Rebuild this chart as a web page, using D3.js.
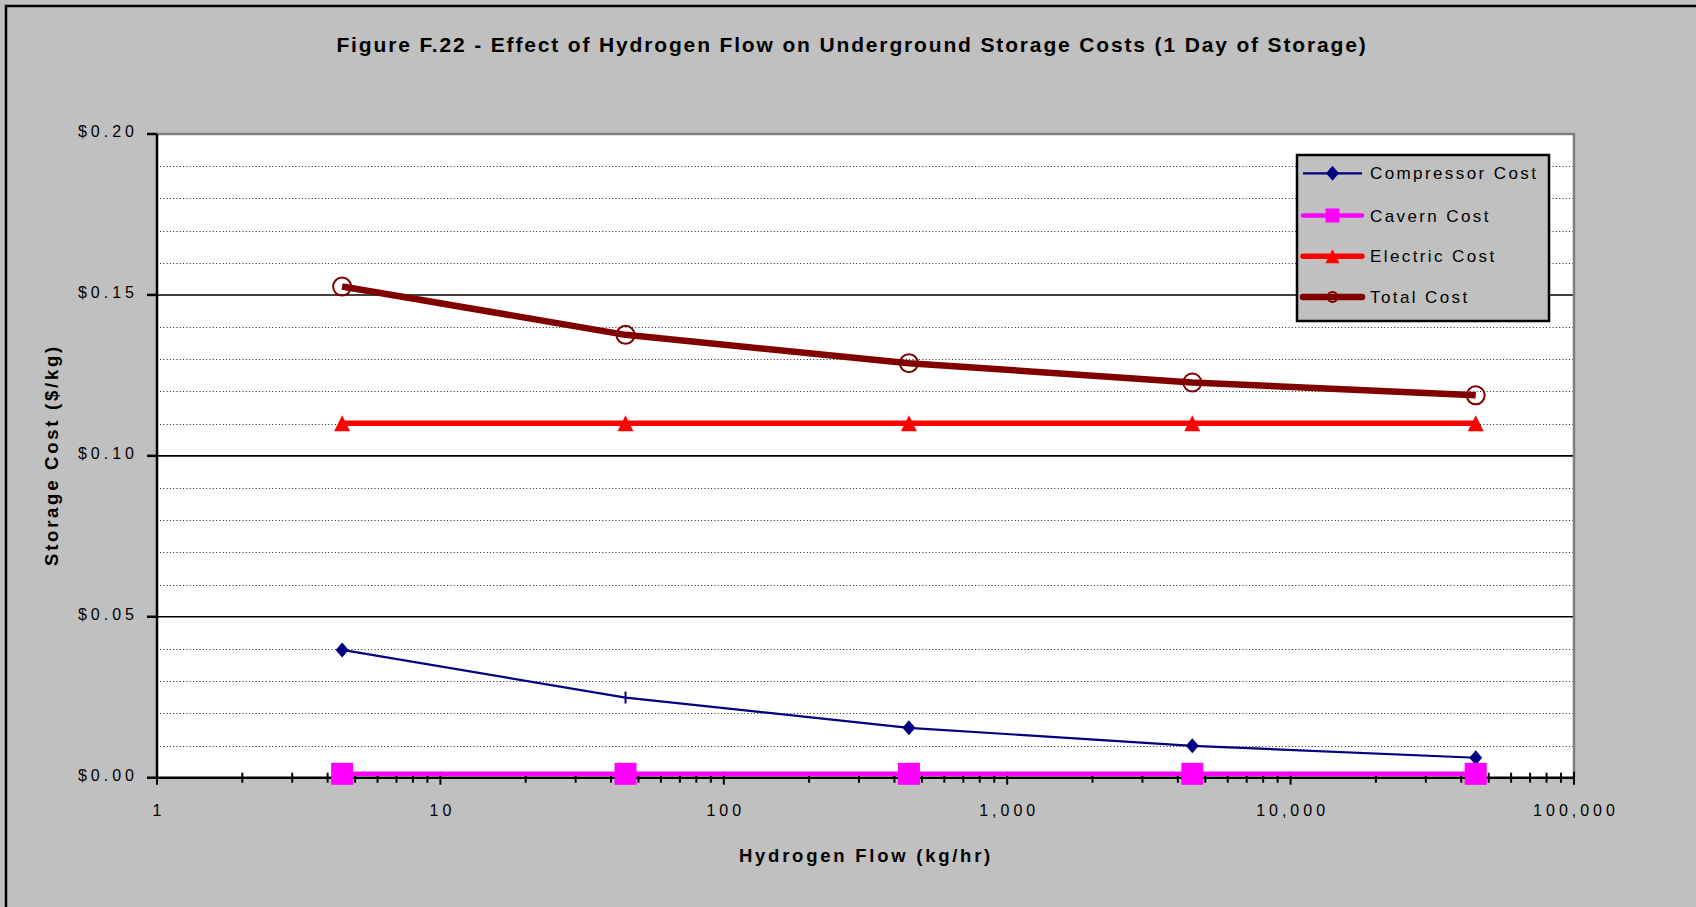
<!DOCTYPE html>
<meta charset="utf-8">
<style>
body { margin: 0; background: #c0c0c0; }
svg { display: block; font-family: "Liberation Sans", Arial, sans-serif; }
.tick-label { font-size: 16px; letter-spacing: 4px; fill: #000; }
.legend-label { font-size: 17px; letter-spacing: 2.4px; fill: #000; }
.titulo { font-size: 21px; font-weight: bold; letter-spacing: 1.85px; fill: #000; }
.eixo-titulo { font-size: 18.5px; font-weight: bold; letter-spacing: 2.75px; fill: #000; }
</style>
<svg width="1696" height="907"></svg>
<script src="https://d3js.org/d3.v7.min.js"></script>
<script>

// dados (custo em $/kg)
var fluxo = [4.5, 45, 450, 4500, 45000];
var compressor = [0.0397, 0.0249, 0.0155, 0.0099, 0.0062];
var caverna = [0.0012, 0.0012, 0.0012, 0.0012, 0.0012];
var eletrico = [0.1101, 0.1101, 0.1101, 0.1101, 0.1101];
var total = [0.1526, 0.1376, 0.1288, 0.1228, 0.1188];

var yTicks = [0, 0.05, 0.10, 0.15, 0.20];
var xTicks = [1, 10, 100, 1000, 10000, 100000];
var nomes = ["Compressor Cost", "Cavern Cost", "Electric Cost", "Total Cost"];

var svg = d3.select("svg");
var plot = {left: 157, right: 1574, top: 134, bottom: 777.7};

var x = d3.scaleLog().domain([1, 100000]).range([plot.left, plot.right]);
var y = d3.scaleLinear().domain([0, 0.2]).range([plot.bottom, plot.top]);

// moldura externa
svg.append("rect")
    .attr("x", 6).attr("y", 6).attr("width", 1720).attr("height", 940)
    .attr("fill", "#c0c0c0").attr("stroke", "#000").attr("stroke-width", 2.5);

// area do grafico
svg.append("rect")
    .attr("x", plot.left).attr("y", plot.top)
    .attr("width", plot.right - plot.left).attr("height", plot.bottom - plot.top)
    .attr("fill", "#fff");

// linhas de grade pontilhadas (a cada 0.01)
var menores = d3.range(1, 20).filter(i => i % 5 != 0).map(i => i / 100);
svg.append("g").selectAll("line").data(menores).enter().append("line")
    .attr("x1", plot.left + 3).attr("x2", plot.right)
    .attr("y1", d => Math.round(y(d)) + 0.5).attr("y2", d => Math.round(y(d)) + 0.5)
    .attr("stroke", "#222").attr("stroke-width", 1).attr("stroke-dasharray", "1,2.3");

// linhas de grade principais
svg.append("g").selectAll("line").data([0.05, 0.10, 0.15]).enter().append("line")
    .attr("x1", plot.left).attr("x2", plot.right)
    .attr("y1", d => y(d)).attr("y2", d => y(d))
    .attr("stroke", "#000").attr("stroke-width", 1.6);

// bordas cinzas de cima e da direita
svg.append("path")
    .attr("d", "M" + plot.left + "," + plot.top + "H" + plot.right + "V" + plot.bottom)
    .attr("fill", "none").attr("stroke", "#808080").attr("stroke-width", 2.5);

// eixo y
svg.append("line")
    .attr("x1", plot.left).attr("x2", plot.left).attr("y1", plot.top).attr("y2", plot.bottom)
    .attr("stroke", "#000").attr("stroke-width", 2.5);
svg.append("g").selectAll("line").data(yTicks).enter().append("line")
    .attr("x1", plot.left - 10).attr("x2", plot.left)
    .attr("y1", d => y(d)).attr("y2", d => y(d))
    .attr("stroke", "#000").attr("stroke-width", 2.5);
svg.append("g").selectAll("text").data(yTicks).enter().append("text")
    .attr("class", "tick-label")
    .attr("x", 138).attr("y", d => y(d) + 3)
    .attr("text-anchor", "end")
    .text(d3.format("$.2f"));

// eixo x (log)
var xMenores = [];
xTicks.slice(0, -1).forEach(function(dec) {
  for (var k = 2; k <= 9; k++) xMenores.push(dec * k);
});
svg.append("g").selectAll("line").data(xMenores).enter().append("line")
    .attr("x1", d => x(d)).attr("x2", d => x(d))
    .attr("y1", plot.bottom - 5).attr("y2", plot.bottom + 5)
    .attr("stroke", "#000").attr("stroke-width", 2);
svg.append("g").selectAll("line").data(xTicks).enter().append("line")
    .attr("x1", d => x(d)).attr("x2", d => x(d))
    .attr("y1", plot.bottom - 6).attr("y2", plot.bottom + 7)
    .attr("stroke", "#000").attr("stroke-width", 2);
svg.append("line")
    .attr("x1", plot.left).attr("x2", plot.right).attr("y1", plot.bottom).attr("y2", plot.bottom)
    .attr("stroke", "#000").attr("stroke-width", 2.5);
svg.append("g").selectAll("text").data(xTicks).enter().append("text")
    .attr("class", "tick-label")
    .attr("x", d => x(d) + 2).attr("y", 816)
    .attr("text-anchor", "middle")
    .text(d3.format(",d"));

// titulos
svg.append("text").attr("class", "titulo")
    .attr("x", 852).attr("y", 52).attr("text-anchor", "middle")
    .text("Figure F.22 - Effect of Hydrogen Flow on Underground Storage Costs (1 Day of Storage)");
svg.append("text").attr("class", "eixo-titulo")
    .attr("x", 866).attr("y", 862).attr("text-anchor", "middle")
    .text("Hydrogen Flow (kg/hr)");
svg.append("text").attr("class", "eixo-titulo")
    .attr("transform", "translate(58,455) rotate(-90)")
    .attr("text-anchor", "middle")
    .text("Storage Cost ($/kg)");

// series
var linha = d3.line().x(d => x(d[0])).y(d => y(d[1]));
function pares(vals) { return fluxo.map((f, i) => [f, vals[i]]); }

var series = [
  {vals: compressor, cor: "#000080", largura: 2.2, marca: "diamante"},
  {vals: caverna, cor: "#ff00ff", largura: 4.5, marca: "quadrado"},
  {vals: eletrico, cor: "#ff0000", largura: 5.5, marca: "triangulo"},
  {vals: total, cor: "#800000", largura: 6.5, marca: "circulo"}
];

function desenhaMarca(g, tipo, cor, cx, cy, grande, idx) {
  if (tipo == "diamante") {
    if (grande && idx == 1) {
      // no original o segundo ponto aparece so como um traco
      g.append("line").attr("x1", cx).attr("x2", cx).attr("y1", cy - 6).attr("y2", cy + 6)
          .attr("stroke", cor).attr("stroke-width", 2);
      return;
    }
    var w = 6.5, h = 7.5;
    g.append("path").attr("d", "M" + cx + "," + (cy - h) + "L" + (cx + w) + "," + cy + "L" + cx + "," + (cy + h) + "L" + (cx - w) + "," + cy + "Z")
        .attr("fill", cor);
  } else if (tipo == "quadrado") {
    var s = grande ? 22 : 14;
    g.append("rect").attr("x", cx - s / 2).attr("y", cy - s / 2).attr("width", s).attr("height", s)
        .attr("fill", cor);
  } else if (tipo == "triangulo") {
    var t = grande ? 8 : 7;
    g.append("path").attr("d", "M" + cx + "," + (cy - t) + "L" + (cx + t) + "," + (cy + t) + "L" + (cx - t) + "," + (cy + t) + "Z")
        .attr("fill", cor);
  } else {
    g.append("circle").attr("cx", cx).attr("cy", cy).attr("r", grande ? 9 : 5)
        .attr("fill", "none").attr("stroke", cor).attr("stroke-width", 2);
  }
}

series.forEach(function(s) {
  var g = svg.append("g");
  g.append("path").datum(pares(s.vals))
      .attr("d", linha)
      .attr("fill", "none").attr("stroke", s.cor).attr("stroke-width", s.largura)
      .attr("stroke-linejoin", "round");
  pares(s.vals).forEach(function(p, i) {
    desenhaMarca(g, s.marca, s.cor, x(p[0]), y(p[1]), true, i);
  });
});

// legenda
var leg = svg.append("g");
leg.append("rect")
    .attr("x", 1297).attr("y", 155).attr("width", 252).attr("height", 166)
    .attr("fill", "#c0c0c0").attr("stroke", "#000").attr("stroke-width", 2.5);
var legY = [173.3, 215.5, 256.3, 297];
series.forEach(function(s, i) {
  var gy = legY[i];
  leg.append("line").attr("x1", 1303).attr("x2", 1362).attr("y1", gy).attr("y2", gy)
      .attr("stroke", s.cor).attr("stroke-width", s.largura).attr("stroke-linecap", i > 0 ? "round" : "butt");
  desenhaMarca(leg, s.marca, s.cor, 1332.5, gy, false, i);
  leg.append("text").attr("class", "legend-label")
      .attr("x", 1370).attr("y", gy + 6)
      .text(nomes[i]);
});

</script>
